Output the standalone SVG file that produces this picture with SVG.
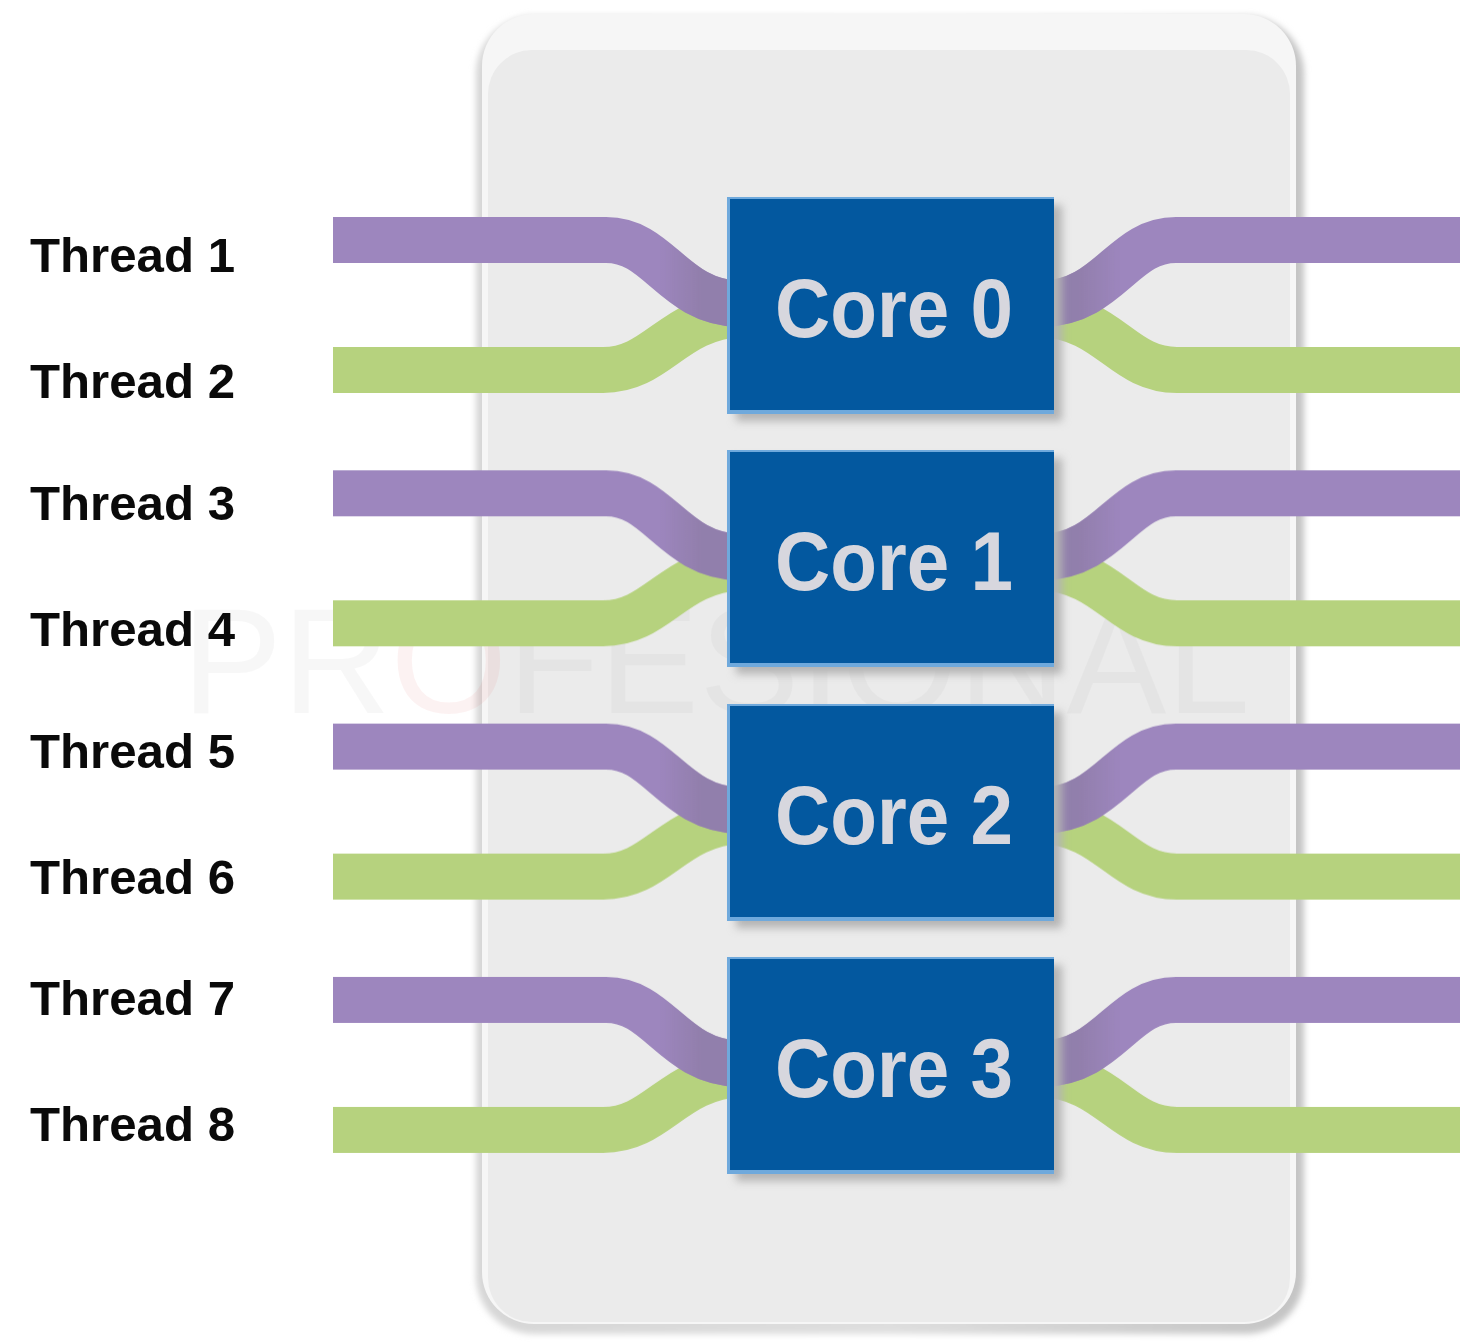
<svg xmlns="http://www.w3.org/2000/svg" width="1460" height="1342" viewBox="0 0 1460 1342">
  <defs>
    <filter id="soft" x="-10%" y="-10%" width="120%" height="120%">
      <feGaussianBlur stdDeviation="3"/>
    </filter>
    <filter id="shadow" x="-10%" y="-10%" width="130%" height="130%">
      <feGaussianBlur stdDeviation="4"/>
    </filter>
    <linearGradient id="panelRim" x1="0" y1="0" x2="1" y2="0">
      <stop offset="0" stop-color="#d6d6d6"/>
      <stop offset="0.5" stop-color="#dedede"/>
      <stop offset="1" stop-color="#c4c4c4"/>
    </linearGradient>
    <!-- fade-in of the darker tone where the two thread bands merge next to a core -->
    <linearGradient id="mergeFade" gradientUnits="userSpaceOnUse" x1="660" y1="0" x2="1120" y2="0">
      <stop offset="0" stop-color="#000"/>
      <stop offset="0.09" stop-color="#fff"/>
      <stop offset="0.91" stop-color="#fff"/>
      <stop offset="1" stop-color="#000"/>
    </linearGradient>
    <mask id="mergeZone" maskUnits="userSpaceOnUse" x="0" y="0" width="1460" height="1342">
      <rect x="0" y="0" width="1460" height="1342" fill="url(#mergeFade)"/>
    </mask>
    <g id="threadPair">
      <path class="green" d="M333,370 H603 C658,370 672,318 740,314"/>
      <path class="purple" d="M333,240 H606 C660,240 672,302 740,304"/>
      <path class="green" d="M1042,314 C1110,318 1122,370 1177,370 H1460"/>
      <path class="purple" d="M1042,304 C1110,302 1122,240 1176,240 H1460"/>
      <g mask="url(#mergeZone)">
        <path class="merge" d="M606,240 C660,240 672,302 740,304"/>
        <path class="merge" d="M1042,304 C1110,302 1122,240 1176,240"/>
      </g>
    </g>
  </defs>
  <style>
    .label { font-family: "Liberation Sans", Arial, sans-serif; font-weight: bold; font-size: 48px; fill: #0a0a0a; }
    .core-box { fill: #03589f; }
    .core-edge { fill: #6fa9dc; }
    .core-shadow { fill: #b4b4b4; }
    .core-text { font-family: "Liberation Sans", Arial, sans-serif; font-weight: bold; font-size: 84px; fill: #d7d7de; }
    .purple { fill: none; stroke: #9d86be; stroke-width: 46; }
    .green { fill: none; stroke: #b6d27e; stroke-width: 46; }
    .merge { fill: none; stroke: #8d7ca6; stroke-width: 46; opacity: 0.75; }
    .mark { font-family: "Liberation Sans", Arial, sans-serif; font-weight: normal; fill: #9a9a9a; opacity: 0.07; }
  </style>

  <rect width="1460" height="1342" fill="#ffffff"/>

  <!-- chip panel -->
  <g id="panel">
    <rect x="476" y="16" width="828" height="1318" rx="58" fill="url(#panelRim)" filter="url(#soft)"/>
    <rect x="482" y="14" width="814" height="1310" rx="52" fill="#f6f6f6"/>
    <rect x="488" y="50" width="802" height="1272" rx="44" fill="#ebebeb"/>
  </g>

  <!-- watermark -->
  <g id="watermark">
    <text class="mark" x="182" y="713" font-size="150" textLength="1068" lengthAdjust="spacingAndGlyphs">PR<tspan fill="#e05050">O</tspan>FESIONAL</text>
  </g>

  <!-- thread connectors -->
  <g id="connectors">
    <use id="threads-core0" href="#threadPair"/>
    <use id="threads-core1" href="#threadPair" transform="translate(0,253.3)"/>
    <use id="threads-core2" href="#threadPair" transform="translate(0,506.6)"/>
    <use id="threads-core3" href="#threadPair" transform="translate(0,759.9)"/>
  </g>

  <!-- cores -->
  <g id="core0">
    <rect class="core-shadow" x="736" y="205" width="326" height="216" filter="url(#shadow)"/>
    <rect class="core-edge" x="727" y="197" width="327" height="217"/>
    <rect class="core-box" x="730" y="199" width="324" height="211"/>
    <text class="core-text" x="775" y="337" textLength="238" lengthAdjust="spacingAndGlyphs">Core 0</text>
  </g>
  <g id="core1">
    <rect class="core-shadow" x="736" y="458" width="326" height="216" filter="url(#shadow)"/>
    <rect class="core-edge" x="727" y="450" width="327" height="217"/>
    <rect class="core-box" x="730" y="452" width="324" height="211"/>
    <text class="core-text" x="775" y="590" textLength="238" lengthAdjust="spacingAndGlyphs">Core 1</text>
  </g>
  <g id="core2">
    <rect class="core-shadow" x="736" y="712" width="326" height="216" filter="url(#shadow)"/>
    <rect class="core-edge" x="727" y="704" width="327" height="217"/>
    <rect class="core-box" x="730" y="706" width="324" height="211"/>
    <text class="core-text" x="775" y="844" textLength="238" lengthAdjust="spacingAndGlyphs">Core 2</text>
  </g>
  <g id="core3">
    <rect class="core-shadow" x="736" y="965" width="326" height="216" filter="url(#shadow)"/>
    <rect class="core-edge" x="727" y="957" width="327" height="217"/>
    <rect class="core-box" x="730" y="959" width="324" height="211"/>
    <text class="core-text" x="775" y="1097" textLength="238" lengthAdjust="spacingAndGlyphs">Core 3</text>
  </g>

  <!-- thread labels -->
  <g id="labels">
    <text class="label" x="30" y="272" textLength="205" lengthAdjust="spacingAndGlyphs">Thread 1</text>
    <text class="label" x="30" y="398" textLength="205" lengthAdjust="spacingAndGlyphs">Thread 2</text>
    <text class="label" x="30" y="520" textLength="205" lengthAdjust="spacingAndGlyphs">Thread 3</text>
    <text class="label" x="30" y="646" textLength="205" lengthAdjust="spacingAndGlyphs">Thread 4</text>
    <text class="label" x="30" y="768" textLength="205" lengthAdjust="spacingAndGlyphs">Thread 5</text>
    <text class="label" x="30" y="894" textLength="205" lengthAdjust="spacingAndGlyphs">Thread 6</text>
    <text class="label" x="30" y="1015" textLength="205" lengthAdjust="spacingAndGlyphs">Thread 7</text>
    <text class="label" x="30" y="1141" textLength="205" lengthAdjust="spacingAndGlyphs">Thread 8</text>
  </g>
</svg>
